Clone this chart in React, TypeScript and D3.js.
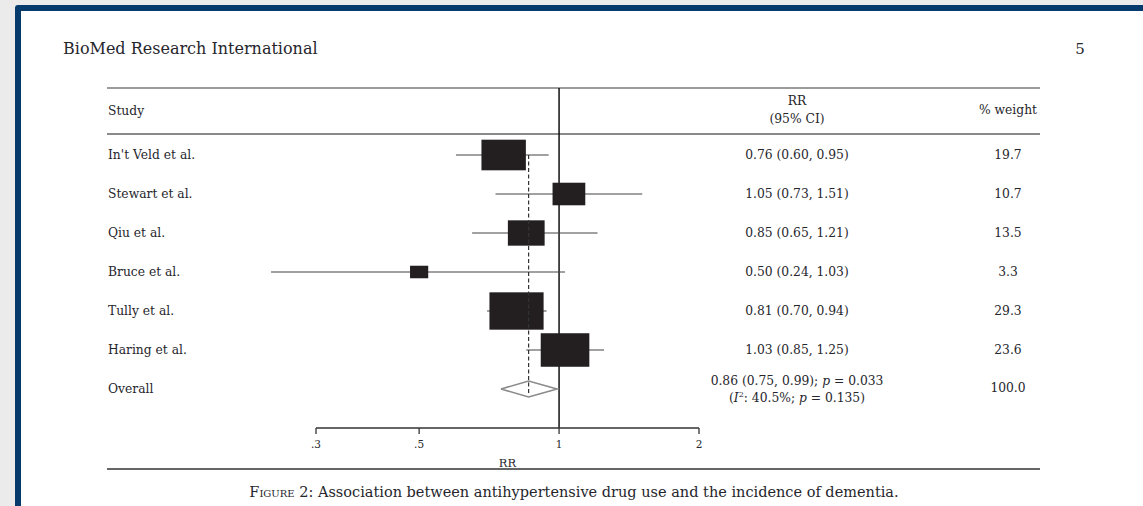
import React from "react";
import * as d3 from "d3";

const studies = ["In't Veld et al.", "Stewart et al.", "Qiu et al.", "Bruce et al.", "Tully et al.", "Haring et al."];
const rrValues = [0.76, 1.05, 0.85, 0.5, 0.81, 1.03];
const ciLow = [0.6, 0.73, 0.65, 0.24, 0.7, 0.85];
const ciHigh = [0.95, 1.51, 1.21, 1.03, 0.94, 1.25];
const weights = [19.7, 10.7, 13.5, 3.3, 29.3, 23.6];
const ciLabels = ["0.76 (0.60, 0.95)", "1.05 (0.73, 1.51)", "0.85 (0.65, 1.21)", "0.50 (0.24, 1.03)", "0.81 (0.70, 0.94)", "1.03 (0.85, 1.25)"];
const weightLabels = ["19.7", "10.7", "13.5", "3.3", "29.3", "23.6"];
const overallRR = 0.86;
const overallLow = 0.75;
const overallHigh = 0.99;
const tickValues = [0.3, 0.5, 1, 2];
const tickLabels = [".3", ".5", "1", "2"];

const W = 1143;
const H = 506;
const FONT = "'DejaVu Serif', serif";
const TXT = "#26262c";
const FS = 12.3;

export default function App() {
  const x = d3.scaleLog().domain([0.3, 2]).range([316, 699]);
  const rows = [...studies, "Overall"];
  const y = d3.scalePoint<string>().domain(rows).range([155, 389]);
  const boxH = d3.scaleSqrt().domain([0, 1]).range([0, 6.9]);
  const aspect = 1.45;
  const oy = y("Overall") as number;
  const dx = x(overallRR);

  const diamond = d3.line()([
    [x(overallLow), oy],
    [dx, oy - 8],
    [x(overallHigh), oy],
    [dx, oy + 8],
    [x(overallLow), oy],
  ]) as string;

  return (
    <div style={{ position: "fixed", left: 0, top: 0 }}>
      <svg width={W} height={H} style={{ display: "block" }}>
        <rect x={0} y={0} width={W} height={H} fill="#ebebeb" />
        <rect x={15} y={5} width={W} height={H} fill="#063a6d" rx={3} />
        <rect x={21} y={11} width={W} height={H} fill="#ffffff" />

        <text x={63} y={54} fontFamily={FONT} fontSize={16} fill={TXT}>BioMed Research International</text>
        <text x={1080} y={54} fontFamily={FONT} fontSize={15} fill={TXT} textAnchor="middle">5</text>

        {/* rules */}
        <line x1={107} x2={1040} y1={88} y2={88} stroke="#7a7a7a" strokeWidth={1.5} />
        <line x1={107} x2={1040} y1={134} y2={134} stroke="#8a8a8a" strokeWidth={2} />
        <line x1={107} x2={1040} y1={469} y2={469} stroke="#333" strokeWidth={1.3} />

        {/* headers */}
        <text x={108} y={115} fontFamily={FONT} fontSize={FS} fill={TXT}>Study</text>
        <text x={797} y={105} fontFamily={FONT} fontSize={FS} fill={TXT} textAnchor="middle">RR</text>
        <text x={797} y={123} fontFamily={FONT} fontSize={FS} fill={TXT} textAnchor="middle">(95% CI)</text>
        <text x={1008} y={114} fontFamily={FONT} fontSize={FS} fill={TXT} textAnchor="middle">% weight</text>

        {/* null line */}
        <line x1={x(1)} x2={x(1)} y1={88} y2={428} stroke="#111" strokeWidth={1.5} />

        {/* study rows */}
        {studies.map((s, i) => {
          const cy = y(s) as number;
          const h = boxH(weights[i]);
          const w = h * aspect;
          const cx = x(rrValues[i]);
          return (
            <g key={s}>
              <text x={108} y={cy + 4} fontFamily={FONT} fontSize={FS} fill={TXT}>{s}</text>
              <line x1={x(ciLow[i])} x2={x(ciHigh[i])} y1={cy} y2={cy} stroke="#444" strokeWidth={1.2} />
              <rect x={cx - w / 2} y={cy - h / 2} width={w} height={h} fill="#231f20" />
              <text x={797} y={cy + 4} fontFamily={FONT} fontSize={FS} fill={TXT} textAnchor="middle">{ciLabels[i]}</text>
              <text x={1008} y={cy + 4} fontFamily={FONT} fontSize={FS} fill={TXT} textAnchor="middle">{weightLabels[i]}</text>
            </g>
          );
        })}

        {/* overall */}
        <text x={108} y={oy + 4} fontFamily={FONT} fontSize={FS} fill={TXT}>Overall</text>
        <path d={diamond} fill="#fff" stroke="#8a8a8a" strokeWidth={1.6} />
        <line x1={dx} x2={dx} y1={y(studies[0]) as number} y2={oy + 4} stroke="#333" strokeWidth={1.2} strokeDasharray="4,2.5" />
        <text x={797} y={385} fontFamily={FONT} fontSize={FS} fill={TXT} textAnchor="middle">
          0.86 (0.75, 0.99); <tspan fontStyle="italic">p</tspan> = 0.033
        </text>
        <text x={797} y={402} fontFamily={FONT} fontSize={FS} fill={TXT} textAnchor="middle">
          (<tspan fontStyle="italic">I</tspan><tspan fontSize={8} dy={-5}>2</tspan><tspan dy={5}>: 40.5%; </tspan><tspan fontStyle="italic">p</tspan> = 0.135)
        </text>
        <text x={1008} y={392} fontFamily={FONT} fontSize={FS} fill={TXT} textAnchor="middle">100.0</text>

        {/* axis */}
        <line x1={x(0.3)} x2={x(2)} y1={428} y2={428} stroke="#333" strokeWidth={1.3} />
        {tickValues.map((t, i) => (
          <g key={t}>
            <line x1={x(t)} x2={x(t)} y1={428} y2={434} stroke="#333" strokeWidth={1.3} />
            <text x={x(t)} y={448} fontFamily={FONT} fontSize={10.5} fill={TXT} textAnchor="middle">{tickLabels[i]}</text>
          </g>
        ))}
        <text x={(x(0.3) + x(2)) / 2} y={467} fontFamily={FONT} fontSize={11.5} fill={TXT} textAnchor="middle">RR</text>

        {/* caption */}
        <text x={574} y={497} fontFamily={FONT} fontSize={14.5} fill={TXT} textAnchor="middle">
          <tspan style={{ fontVariant: "small-caps" }}>Figure</tspan> 2: Association between antihypertensive drug use and the incidence of dementia.
        </text>
      </svg>
    </div>
  );
}
